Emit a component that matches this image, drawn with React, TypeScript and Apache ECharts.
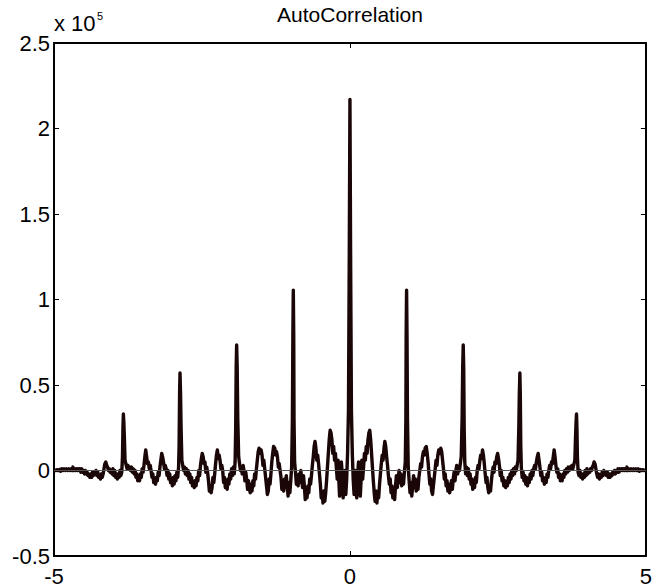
import React, { useEffect, useRef } from "react";
import * as echarts from "echarts";

// Autocorrelation (right half, lag >= 0; values in units of 1e5).
// The autocorrelation is symmetric about lag 0, the left half mirrors it.
const period0: [number, number][] = [
  [0, 2.17], [0.012, 1.2], [0.025, 0.35], [0.04, 0.1], [0.055, -0.05], [0.07, -0.14], [0.085, 0.0],
  [0.1, -0.08], [0.115, -0.16], [0.13, -0.02], [0.145, 0.05], [0.16, -0.06], [0.175, -0.15], [0.19, -0.04],
  [0.2, 0.06], [0.215, -0.05], [0.23, 0.02], [0.245, 0.1], [0.26, 0.06], [0.275, 0.14], [0.29, 0.1],
  [0.305, 0.18], [0.32, 0.22], [0.335, 0.235], [0.35, 0.18], [0.365, 0.1], [0.38, 0.02], [0.395, -0.06],
  [0.41, -0.13], [0.425, -0.18], [0.44, -0.12], [0.455, -0.19], [0.47, -0.13], [0.485, -0.16], [0.5, -0.08],
  [0.515, -0.02], [0.53, 0.04], [0.545, 0.09], [0.56, 0.06], [0.575, 0.13], [0.59, 0.17], [0.605, 0.14],
  [0.62, 0.08], [0.635, 0.03], [0.65, -0.03], [0.665, -0.08], [0.68, -0.05], [0.695, -0.13], [0.71, -0.09],
  [0.725, -0.16], [0.74, -0.12], [0.755, -0.17], [0.77, -0.09], [0.785, -0.03], [0.8, -0.1], [0.815, -0.05],
  [0.83, 0], [0.845, -0.07], [0.86, -0.02], [0.875, -0.09], [0.89, -0.04], [0.905, -0.08], [0.92, -0.01],
  [0.935, 0.05], [0.945, 0.3], [0.95, 0.8], [0.957, 1.055], [0.964, 0.8], [0.972, 0.3], [0.985, 0.02],
];
const period1: [number, number][] = [
  [1.0, -0.06], [1.015, -0.13], [1.03, -0.07], [1.045, -0.15], [1.06, -0.09], [1.075, -0.03], [1.09, -0.1],
  [1.105, -0.05], [1.12, -0.12], [1.135, -0.06], [1.15, -0.11], [1.165, -0.04], [1.18, 0.0], [1.195, 0.04],
  [1.21, 0.02], [1.225, 0.08], [1.24, 0.11], [1.255, 0.09], [1.27, 0.13], [1.29, 0.14], [1.305, 0.1],
  [1.32, 0.05], [1.335, -0.02], [1.35, -0.08], [1.365, -0.05], [1.38, -0.12], [1.395, -0.14], [1.41, -0.09],
  [1.425, -0.04], [1.44, 0.01], [1.455, 0.06], [1.47, 0.03], [1.485, 0.09], [1.5, 0.12], [1.52, 0.1],
  [1.535, 0.13], [1.55, 0.11], [1.565, 0.06], [1.58, 0.01], [1.595, -0.05], [1.61, -0.02], [1.625, -0.09],
  [1.64, -0.06], [1.655, -0.12], [1.67, -0.08], [1.685, -0.13], [1.7, -0.1], [1.715, -0.06], [1.73, -0.11],
  [1.745, -0.05], [1.76, -0.01], [1.775, -0.06], [1.79, 0.0], [1.805, 0.03], [1.82, -0.02], [1.835, 0.02],
  [1.85, 0.0], [1.865, 0.04], [1.88, 0.08], [1.895, 0.3], [1.905, 0.6], [1.914, 0.734], [1.922, 0.6],
  [1.93, 0.25], [1.94, 0.05],
];
const period2: [number, number][] = [
  [1.955, -0.02], [1.97, 0.02], [1.985, -0.03], [2.0, 0.01], [2.015, -0.05], [2.03, -0.02], [2.045, -0.08],
  [2.06, -0.05], [2.075, -0.11], [2.09, -0.07], [2.105, -0.1], [2.12, -0.04], [2.135, -0.07], [2.15, 0.0],
  [2.165, 0.03], [2.18, 0.01], [2.195, 0.06], [2.21, 0.09], [2.225, 0.07], [2.24, 0.12], [2.255, 0.09],
  [2.27, 0.04], [2.285, -0.02], [2.3, -0.07], [2.315, -0.04], [2.33, -0.1], [2.345, -0.13], [2.36, -0.09],
  [2.375, -0.12], [2.39, -0.06], [2.405, -0.01], [2.42, 0.02], [2.435, -0.01], [2.45, 0.05], [2.465, 0.04],
  [2.48, 0.08], [2.495, 0.1], [2.51, 0.07], [2.525, 0.03], [2.54, -0.03], [2.555, 0.0], [2.57, -0.06],
  [2.585, -0.04], [2.6, -0.09], [2.615, -0.06], [2.63, -0.1], [2.645, -0.07], [2.66, -0.09], [2.675, -0.04],
  [2.69, -0.07], [2.705, -0.02], [2.72, -0.05], [2.735, 0.0], [2.75, -0.03], [2.765, 0.01], [2.78, -0.02],
  [2.795, 0.02], [2.81, 0.0], [2.825, 0.03], [2.84, 0.06], [2.853, 0.25], [2.862, 0.45], [2.871, 0.57],
  [2.878, 0.45], [2.886, 0.15], [2.895, 0.02],
];
const period3: [number, number][] = [
  [2.91, -0.04], [2.925, -0.01], [2.94, -0.06], [2.955, -0.03], [2.97, -0.08], [2.985, -0.04], [3.0, -0.09],
  [3.015, -0.05], [3.03, -0.07], [3.045, -0.02], [3.06, -0.05], [3.075, 0.0], [3.09, -0.03], [3.105, 0.01],
  [3.12, 0.03], [3.135, 0.01], [3.15, 0.05], [3.165, 0.08], [3.18, 0.1], [3.195, 0.06], [3.21, 0.02],
  [3.225, -0.03], [3.24, -0.01], [3.255, -0.06], [3.27, -0.04], [3.285, -0.08], [3.3, -0.05], [3.315, -0.07],
  [3.33, -0.02], [3.345, -0.04], [3.36, 0.0], [3.375, 0.03], [3.39, 0.01], [3.405, 0.05], [3.42, 0.04],
  [3.435, 0.08], [3.45, 0.12], [3.465, 0.08], [3.48, 0.03], [3.495, -0.01], [3.51, 0.01], [3.525, -0.04],
  [3.54, -0.02], [3.555, -0.06], [3.57, -0.03], [3.585, -0.06], [3.6, -0.02], [3.615, -0.04], [3.63, 0.0],
  [3.645, -0.02], [3.66, 0.01], [3.675, -0.01], [3.69, 0.02], [3.705, 0.0], [3.72, 0.02], [3.735, 0.01],
  [3.75, 0.03], [3.765, 0.01], [3.78, 0.03], [3.8, 0.06], [3.81, 0.18], [3.82, 0.28], [3.828, 0.33],
  [3.835, 0.25], [3.843, 0.08], [3.855, -0.01],
];
const period4: [number, number][] = [
  [3.87, -0.03], [3.885, 0.0], [3.9, -0.04], [3.915, -0.02], [3.93, -0.05], [3.945, -0.02], [3.96, -0.04],
  [3.975, 0.0], [3.99, -0.03], [4.005, 0.01], [4.02, -0.02], [4.035, 0.0], [4.05, -0.01], [4.065, 0.01],
  [4.08, 0.0], [4.095, 0.02], [4.11, 0.03], [4.125, 0.05], [4.14, 0.04], [4.155, 0.01], [4.17, -0.02],
  [4.185, -0.04], [4.2, -0.02], [4.215, -0.05], [4.23, -0.03], [4.245, -0.04], [4.26, -0.01], [4.275, -0.03],
  [4.29, 0.0], [4.305, -0.02], [4.32, -0.01], [4.335, -0.03], [4.35, -0.01], [4.365, -0.04], [4.38, -0.02],
  [4.395, -0.04], [4.41, -0.02], [4.425, -0.03], [4.44, -0.01], [4.455, -0.02], [4.47, 0.0], [4.485, -0.02],
  [4.5, 0.0], [4.515, -0.01], [4.53, 0.01], [4.545, -0.01], [4.56, 0.01], [4.575, 0.0], [4.59, 0.01],
  [4.605, 0.0], [4.62, 0.01], [4.635, 0.0], [4.65, 0.01], [4.665, 0.0], [4.68, 0.02], [4.695, 0.0],
  [4.71, 0.01], [4.73, 0.0], [4.75, 0.01], [4.77, 0.0], [4.79, 0.01], [4.81, 0.0], [4.83, 0.01],
  [4.85, 0.0], [4.87, 0.01], [4.89, -0.005], [4.91, 0.005], [4.93, 0.0], [4.95, 0.005], [4.97, 0.0],
  [4.99, 0.005],
];

const xTicks = [-5, 0, 5];
const yTicks = [-0.5, 0, 0.5, 1, 1.5, 2, 2.5];
const titleText = "AutoCorrelation";
const exponentBase = "x 10";
const exponentPower = "5";

const FONT = "'Liberation Sans', Arial, Helvetica, sans-serif";

export default function App() {
  const ref = useRef<HTMLDivElement>(null);

  useEffect(() => {
    if (!ref.current) return;
    const chart = echarts.init(ref.current, undefined, { renderer: "svg" });

    const right = [...period0, ...period1, ...period2, ...period3, ...period4];
    const left = right
      .slice(1)
      .map(([x, y]) => [-x, y] as [number, number])
      .reverse();
    const data = [...left, ...right];

    const xMin = xTicks[0];
    const xMax = xTicks[xTicks.length - 1];
    const yMin = yTicks[0];
    const yMax = yTicks[yTicks.length - 1];

    const axisLine = { show: true, onZero: false, lineStyle: { color: "#000", width: 2 } };
    const tick = { show: true, inside: true, length: 5, lineStyle: { color: "#000", width: 1 } };

    chart.setOption({
      animation: false,
      backgroundColor: "#fff",
      grid: { left: 54, top: 43, width: 592, height: 513, containLabel: false },
      graphic: [
        {
          type: "text",
          x: 350,
          y: 25,
          style: {
            text: titleText,
            font: `21px ${FONT}`,
            fill: "#000",
            textAlign: "center",
            textVerticalAlign: "bottom",
          },
        },
        {
          type: "text",
          x: 54,
          y: 34,
          style: {
            text: exponentBase,
            font: `22px ${FONT}`,
            fill: "#000",
            textAlign: "left",
            textVerticalAlign: "bottom",
          },
        },
        {
          type: "text",
          x: 97,
          y: 21,
          style: {
            text: exponentPower,
            font: `11px ${FONT}`,
            fill: "#000",
            textAlign: "left",
            textVerticalAlign: "bottom",
          },
        },
      ],
      xAxis: [
        {
          type: "value",
          position: "bottom",
          min: xMin,
          max: xMax,
          interval: 5,
          axisLine,
          axisTick: tick,
          splitLine: { show: false },
          axisLabel: {
            color: "#000",
            fontSize: 22,
            fontFamily: FONT,
            margin: 9,
            formatter: (v: number) => String(v),
          },
        },
        {
          type: "value",
          position: "top",
          min: xMin,
          max: xMax,
          interval: 5,
          axisLine,
          axisTick: tick,
          splitLine: { show: false },
          axisLabel: { show: false },
        },
      ],
      yAxis: [
        {
          type: "value",
          position: "left",
          min: yMin,
          max: yMax,
          interval: 0.5,
          axisLine,
          axisTick: tick,
          splitLine: { show: false },
          axisLabel: {
            color: "#000",
            fontSize: 22,
            fontFamily: FONT,
            margin: 4,
            formatter: (v: number) => String(Math.round(v * 10) / 10),
          },
        },
        {
          type: "value",
          position: "right",
          min: yMin,
          max: yMax,
          interval: 0.5,
          axisLine,
          axisTick: tick,
          splitLine: { show: false },
          axisLabel: { show: false },
        },
      ],
      series: [
        {
          type: "line",
          xAxisIndex: 0,
          yAxisIndex: 0,
          data,
          showSymbol: false,
          symbol: "none",
          smooth: false,
          lineStyle: { color: "#1a0606", width: 3.4, join: "round" },
          markLine: {
            silent: true,
            symbol: ["none", "none"],
            label: { show: false },
            lineStyle: { color: "#555", width: 1, type: "solid" },
            data: [{ yAxis: 0 }],
          },
        },
      ],
    });

    return () => chart.dispose();
  }, []);

  return (
    <div
      ref={ref}
      style={{ position: "fixed", left: 0, top: 0, width: 655, height: 588, background: "#fff" }}
    />
  );
}
